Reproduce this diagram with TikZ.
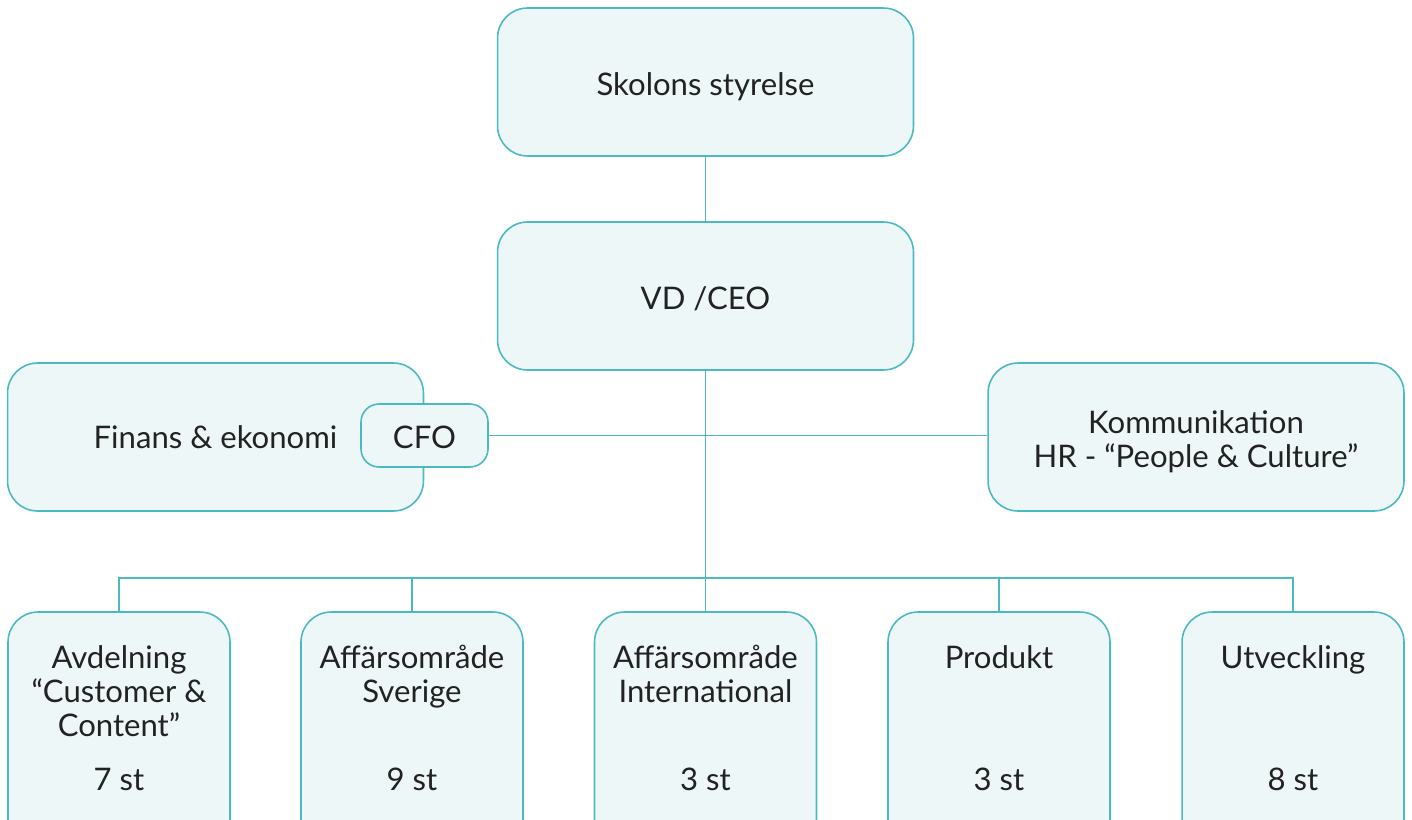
\documentclass[tikz,border=0pt]{standalone}
\usepackage{fontspec}
\setmainfont{Lato}
\usetikzlibrary{positioning}

\definecolor{boxline}{RGB}{74,185,193}
\definecolor{boxfill}{RGB}{237,247,248}
\definecolor{ink}{RGB}{34,34,34}

\tikzset{
    orgbox/.style={draw=boxline, fill=boxfill, line width=0.9pt, text=ink,
        align=center, font=\fontsize{17.7}{19.3}\selectfont},
    oneline/.style={text height=0.52cm, text depth=0cm},
    bigbox/.style={orgbox, rounded corners=0.6cm, minimum width=8.32cm, minimum height=2.96cm},
    smallbox/.style={orgbox, rounded corners=0.36cm, minimum width=2.54cm, minimum height=1.26cm},
    unitbox/.style={orgbox, rounded corners=0.6cm, minimum width=4.44cm, minimum height=4.76cm},
    unittext/.style={text=ink, align=center, anchor=base, inner sep=0pt,
        font=\fontsize{17.7}{19.3}\selectfont},
    link/.style={draw=boxline, line width=0.6pt}
}

\begin{document}
\begin{tikzpicture}[x=0.02cm, y=-0.02cm]
    \useasboundingbox (0,0) rectangle (1412,819);
    \clip (0,0) rectangle (1412,819);

    % Top levels
    \node[bigbox, oneline] (board) at (705.5,82) {Skolons styrelse};
    \node[bigbox, oneline] (ceo) at (705.5,296) {VD /CEO};

    % Staff functions
    \node[bigbox, text height=0.44cm, text depth=0cm] (finance) at (215.5,437) {Finans \& ekonomi};
    \node[smallbox, oneline] (cfo) at (424.5,435.5) {CFO};
    \node[bigbox, text height=1.2cm, text depth=0cm] (comm) at (1196,437) {Kommunikation\\HR - “People \& Culture”};

    % Units
    \node[unitbox] (cust) at (119,731) {};
    \node[unitbox] (swe) at (412,731) {};
    \node[unitbox] (intl) at (705.5,731) {};
    \node[unitbox] (prod) at (999,731) {};
    \node[unitbox] (dev) at (1293,731) {};

    % Unit titles (base = last line)
    \node[unittext] (custT) at (119,736) {Avdelning\\“Customer \&\\Content”};
    \node[unittext] (sweT) at (412,702) {Affärsområde\\Sverige};
    \node[unittext] (intlT) at (705.5,702) {Affärsområde\\International};
    \node[unittext] (prodT) at (999,668) {Produkt};
    \node[unittext] (devT) at (1293,668) {Utveckling};

    \node[unittext] (custN) at (119,790) {7 st};
    \node[unittext] (sweN) at (412,790) {9 st};
    \node[unittext] (intlN) at (705.5,790) {3 st};
    \node[unittext] (prodN) at (999,790) {3 st};
    \node[unittext] (devN) at (1293,790) {8 st};

    % Connectors
    \coordinate (bus) at (705.5,578);
    \draw[link] (board.south) -- (ceo.north);
    \draw[link] (ceo.south) -- (intl.north);
    \draw[link] (cfo.east) -- (comm.west |- cfo.east);
    \foreach \u in {cust, swe, prod, dev} {
        \draw[link] (\u.north) |- (bus);
    }
\end{tikzpicture}
\end{document}
